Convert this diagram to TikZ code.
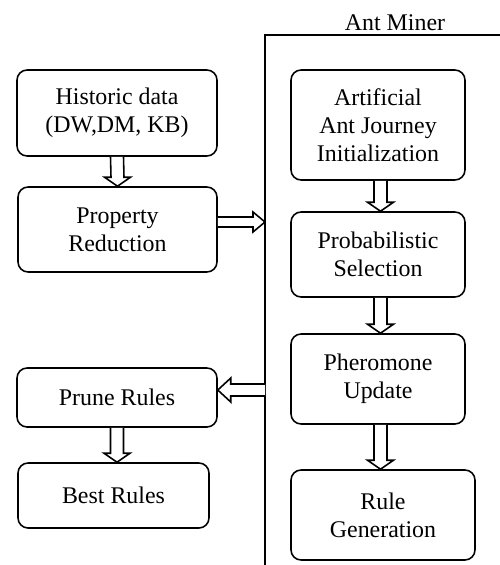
\documentclass[tikz,border=0pt]{standalone}
\usepackage{fontspec}
\setmainfont{Liberation Serif}
\usepackage{tikz}
\usetikzlibrary{calc}
\usetikzlibrary{fit,positioning}
\tikzset{>=latex}
\tikzset{
  stepbox/.style={draw, line width=0.9pt, rounded corners=0.2cm, align=center,
    inner sep=2pt, font=\fontsize{13.6}{15.9}\selectfont},
  blockarr/.style={draw, line width=0.9pt, fill=white, line join=miter}
}
% hollow block arrow pointing down, from #1 to #2
\newcommand{\downblock}[2]{
  \draw[blockarr] ($(#1)+(-6.5,0)$) -- ($(#2)+(-6.5,-9)$) -- ($(#2)+(-13,-9)$) -- (#2)
    -- ($(#2)+(13,-9)$) -- ($(#2)+(6.5,-9)$) -- ($(#1)+(6.5,0)$);
}

\begin{document}
\begin{tikzpicture}[x=0.02cm,y=-0.02cm]
\useasboundingbox (0,0) rectangle (500,565);

% Ant Miner frame
\draw[line width=0.9pt] (500,35) -- (265,35) -- (265,565);
\node[font=\fontsize{13.6}{15.9}\selectfont] (title) at (395,23) {Ant Miner};
\coordinate (minerin) at (265,222);
\coordinate (minerout) at (265,390);

% Left column
\node[stepbox, minimum width=4cm, minimum height=1.72cm] (hist) at (117,113) {Historic data\\(DW,DM, KB)};
\node[stepbox, minimum width=3.98cm, minimum height=1.7cm] (prop) at (117.5,229.5) {Property\\Reduction};
\node[stepbox, minimum width=4cm, minimum height=1.18cm] (prune) at (117,397.5) {Prune Rules};
\node[stepbox, minimum width=3.82cm, minimum height=1.3cm] (best) at (113.5,495.5) {Best Rules};

% Right column
\node[stepbox, minimum width=3.48cm, minimum height=2.2cm] (init) at (378,125) {Artificial\\Ant Journey\\Initialization};
\node[stepbox, minimum width=3.48cm, minimum height=1.7cm] (prob) at (378,254.5) {Probabilistic\\Selection};
\node[stepbox, minimum width=3.48cm, minimum height=1.8cm] (pher) at (378,379) {Pheromone\\Update};
\node[stepbox, minimum width=3.68cm, minimum height=1.8cm] (rule) at (383,515) {Rule\\Generation};

% Down arrows
\downblock{hist.south}{prop.north}
\downblock{prune.south}{prune.south |- best.north}
\downblock{$(init.south)+(2.5,0)$}{$(init.south |- prob.north)+(2.5,0)$}
\downblock{$(prob.south)+(2.5,0)$}{$(prob.south |- pher.north)+(2.5,0)$}
\downblock{$(pher.south)+(2.5,0)$}{$(pher.south |- rule.north)+(2.5,0)$}

% Side arrows
\draw[blockarr] ($(prop.east |- minerin)+(0,-5)$) -- ($(minerin)+(-12,-5)$) -- ($(minerin)+(-12,-10)$)
  -- (minerin) -- ($(minerin)+(-12,10)$) -- ($(minerin)+(-12,5)$) -- ($(prop.east |- minerin)+(0,5)$);
\draw[blockarr] ($(minerout)+(0,-6)$) -- ($(prune.east |- minerout)+(13,-6)$) -- ($(prune.east |- minerout)+(13,-12)$)
  -- (prune.east |- minerout) -- ($(prune.east |- minerout)+(13,12)$) -- ($(prune.east |- minerout)+(13,6)$) -- ($(minerout)+(0,6)$);

\end{tikzpicture}
\end{document}
